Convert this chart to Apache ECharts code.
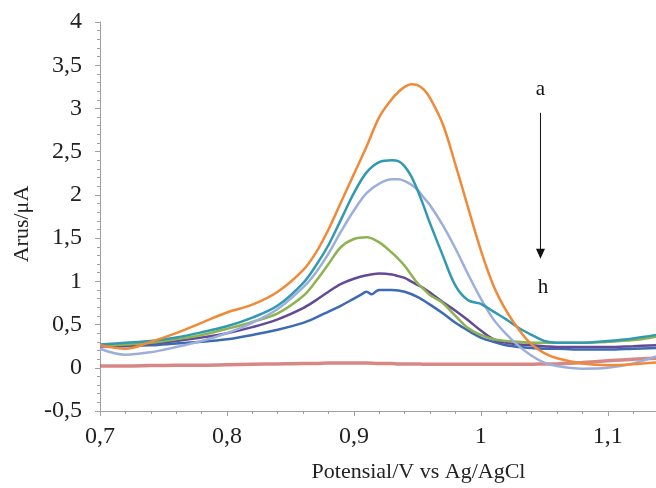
<!DOCTYPE html>
<html>
<head>
<meta charset="utf-8">
<script src="https://cdn.jsdelivr.net/npm/echarts@6/dist/echarts.min.js"></script>
<style>
  html, body { margin: 0; padding: 0; background: #fff; }
  #chart { width: 656px; height: 488px; }
</style>
</head>
<body>
<div id="chart"></div>
<script>
// Potential (V vs Ag/AgCl) shared by most voltammograms
const potential = [0.70, 0.72, 0.74, 0.76, 0.78, 0.80, 0.82, 0.84, 0.86, 0.87, 0.88, 0.89,
  0.90, 0.91, 0.92, 0.93, 0.935, 0.94, 0.945, 0.95, 0.955, 0.96, 0.97, 0.98, 0.99, 1.00,
  1.01, 1.02, 1.03, 1.04, 1.05, 1.06, 1.08, 1.10, 1.12, 1.138];

// Current (µA) for each curve, a (highest) to h (lowest)
const curveA = [0.26, 0.22, 0.30, 0.40, 0.52, 0.64, 0.73, 0.88, 1.13, 1.33, 1.60, 1.92,
  2.24, 2.56, 2.90, 3.11, 3.19, 3.25, 3.28, 3.27, 3.22, 3.12, 2.82, 2.35, 1.85, 1.36,
  0.95, 0.66, 0.44, 0.27, 0.17, 0.11, 0.05, 0.03, 0.04, 0.06];
const curveB = [0.27, 0.29, 0.31, 0.35, 0.41, 0.48, 0.58, 0.72, 0.98, 1.18, 1.42, 1.72,
  2.02, 2.26, 2.38, 2.40, 2.39, 2.33, 2.22, 2.06, 1.87, 1.67, 1.30, 0.95, 0.78, 0.74,
  0.65, 0.56, 0.46, 0.38, 0.31, 0.29, 0.29, 0.31, 0.34, 0.38];
const curveC = [0.22, 0.15, 0.18, 0.24, 0.31, 0.40, 0.52, 0.68, 0.93, 1.10, 1.32, 1.58,
  1.82, 2.02, 2.13, 2.18, 2.18, 2.16, 2.12, 2.06, 1.97, 1.88, 1.65, 1.38, 1.08, 0.80,
  0.56, 0.39, 0.25, 0.14, 0.06, 0.02, -0.01, 0.00, 0.05, 0.13];
const curveD = [0.26, 0.27, 0.29, 0.33, 0.38, 0.45, 0.53, 0.63, 0.83, 1.00, 1.20, 1.40,
  1.49, 1.51, 1.45, 1.33, 1.26, 1.18, 1.08, 0.98, 0.91, 0.84, 0.75, 0.60, 0.46, 0.38,
  0.33, 0.31, 0.30, 0.29, 0.29, 0.29, 0.29, 0.30, 0.32, 0.36];
const curveE = [0.25, 0.26, 0.28, 0.31, 0.35, 0.40, 0.47, 0.56, 0.69, 0.78, 0.88, 0.97,
  1.03, 1.07, 1.09, 1.08, 1.06, 1.04, 1.00, 0.96, 0.92, 0.87, 0.76, 0.66, 0.55, 0.43,
  0.33, 0.29, 0.27, 0.26, 0.25, 0.24, 0.24, 0.24, 0.25, 0.26];
const curveH = [0.02, 0.02, 0.025, 0.03, 0.03, 0.035, 0.04, 0.045, 0.05, 0.05, 0.055, 0.055,
  0.055, 0.055, 0.05, 0.05, 0.045, 0.045, 0.045, 0.045, 0.04, 0.04, 0.04, 0.04, 0.04, 0.04,
  0.04, 0.04, 0.04, 0.04, 0.045, 0.045, 0.06, 0.08, 0.10, 0.11];

// Curve g has a small kink near its peak, so it carries its own potentials
const potentialG = [0.70, 0.72, 0.74, 0.76, 0.78, 0.80, 0.82, 0.84, 0.86, 0.87, 0.88, 0.89,
  0.90, 0.905, 0.91, 0.914, 0.918, 0.92, 0.93, 0.94, 0.95, 0.96, 0.97, 0.98, 0.99, 1.00,
  1.01, 1.02, 1.03, 1.04, 1.05, 1.06, 1.08, 1.10, 1.12, 1.138];
const curveG = [0.25, 0.25, 0.26, 0.28, 0.30, 0.33, 0.38, 0.44, 0.52, 0.58, 0.65, 0.72,
  0.80, 0.84, 0.88, 0.85, 0.89, 0.90, 0.90, 0.88, 0.82, 0.73, 0.63, 0.52, 0.43, 0.35,
  0.30, 0.26, 0.24, 0.23, 0.22, 0.22, 0.21, 0.21, 0.22, 0.23];

const yTicks = { min: -0.5, max: 4, step: 0.5 };
const xTicks = { min: 0.7, max: 1.138, step: 0.1 };

const pair = (xs, ys) => xs.map((x, i) => [x, ys[i]]);
const comma = v => String(+v.toFixed(2)).replace('.', ',');

const curves = [
  { name: 'h', xs: potential, ys: curveH, color: '#C9605D', width: 3.5, opacity: 0.75 },
  { name: 'g', xs: potentialG, ys: curveG, color: '#3D6BB3', width: 2.5, opacity: 1 },
  { name: 'f', xs: potential, ys: curveE, color: '#634A97', width: 2.5, opacity: 1 },
  { name: 'e', xs: potential, ys: curveD, color: '#8DB450', width: 2.5, opacity: 1 },
  { name: 'd', xs: potential, ys: curveC, color: '#9CAFDB', width: 2.5, opacity: 1 },
  { name: 'b', xs: potential, ys: curveB, color: '#3199B0', width: 2.5, opacity: 1 },
  { name: 'a', xs: potential, ys: curveA, color: '#F08A38', width: 2.5, opacity: 1 }
];

const font = 'Liberation Serif, Times New Roman, serif';
const axisGrey = '#a0a0a0';
const chart = echarts.init(document.getElementById('chart'));

chart.setOption({
  animation: false,
  backgroundColor: '#ffffff',
  grid: { left: 100, right: 0, top: 22, bottom: 67, containLabel: false },
  xAxis: {
    type: 'value',
    min: xTicks.min, max: xTicks.max, interval: xTicks.step,
    name: 'Potensial/V vs Ag/AgCl',
    nameLocation: 'middle', nameGap: 50,
    nameTextStyle: { fontFamily: font, fontSize: 22, color: '#222', padding: [0, 0, 0, 81] },
    axisLine: { show: true, onZero: false, lineStyle: { color: axisGrey, width: 1 } },
    axisTick: { show: true, length: 5, lineStyle: { color: axisGrey } },
    minorTick: { show: true, splitNumber: 5, length: 3, lineStyle: { color: axisGrey } },
    splitLine: { show: false },
    axisLabel: {
      showMaxLabel: false, margin: 14,
      fontFamily: font, fontSize: 24, color: '#222',
      formatter: comma
    }
  },
  yAxis: {
    type: 'value',
    min: yTicks.min, max: yTicks.max, interval: yTicks.step,
    name: 'Arus/μA',
    nameLocation: 'middle', nameGap: 67, nameRotate: 90,
    nameTextStyle: { fontFamily: font, fontSize: 22, color: '#222', padding: [0, 15, 0, 0] },
    axisLine: { show: true, onZero: false, lineStyle: { color: axisGrey, width: 1 } },
    axisTick: { show: true, length: 5, lineStyle: { color: axisGrey } },
    minorTick: { show: true, splitNumber: 5, length: 3, lineStyle: { color: axisGrey } },
    splitLine: { show: false },
    axisLabel: { margin: 18, fontFamily: font, fontSize: 24, color: '#222', formatter: comma }
  },
  series: curves.map(c => ({
    type: 'line',
    name: c.name,
    data: pair(c.xs, c.ys),
    smooth: 0.35,
    showSymbol: false,
    clip: true,
    lineStyle: { color: c.color, width: c.width, opacity: c.opacity },
    itemStyle: { color: c.color }
  }))
});

// Arrow from a to h, placed in data coordinates
const arrowX = 1.047;
const arrowStart = chart.convertToPixel({ gridIndex: 0 }, [arrowX, 2.95]);
const arrowTip = chart.convertToPixel({ gridIndex: 0 }, [arrowX, 1.26]);
const labelA = chart.convertToPixel({ gridIndex: 0 }, [arrowX, 3.22]);
const labelH = chart.convertToPixel({ gridIndex: 0 }, [arrowX + 0.002, 0.93]);

chart.setOption({
  graphic: [
    { type: 'line', shape: { x1: arrowStart[0], y1: arrowStart[1], x2: arrowTip[0], y2: arrowTip[1] - 8 },
      style: { stroke: '#111', lineWidth: 1 } },
    { type: 'polygon', shape: { points: [[arrowTip[0] - 4.5, arrowTip[1] - 10], [arrowTip[0] + 4.5, arrowTip[1] - 10], [arrowTip[0], arrowTip[1]]] },
      style: { fill: '#111' } },
    { type: 'text', x: labelA[0], y: labelA[1],
      style: { text: 'a', font: '21px ' + font, fill: '#111', align: 'center', verticalAlign: 'middle' } },
    { type: 'text', x: labelH[0], y: labelH[1],
      style: { text: 'h', font: '21px ' + font, fill: '#111', align: 'center', verticalAlign: 'middle' } }
  ]
});
</script>
</body>
</html>
